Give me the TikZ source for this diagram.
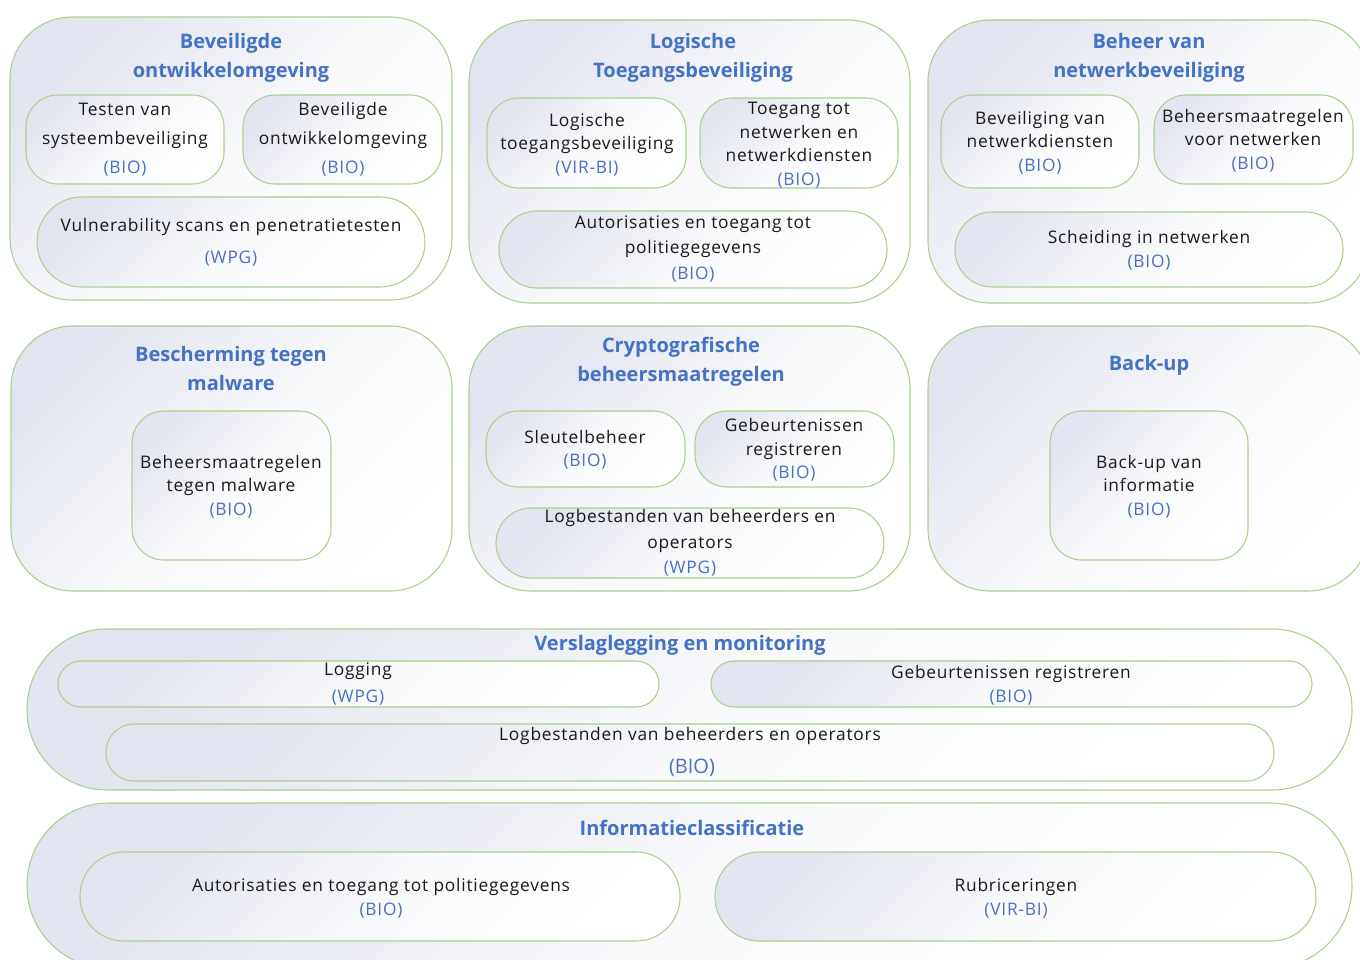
\documentclass[tikz,border=0pt]{standalone}
\usepackage{fontspec}
\setmainfont{Open Sans}
\newfontfamily\bodyfont[LetterSpace=4.5]{Open Sans}
\definecolor{edge}{HTML}{A9D18E}
\definecolor{ttl}{HTML}{4472C4}
\definecolor{lbl}{HTML}{4A70C0}
\definecolor{lav}{HTML}{E2E4EF}
\tikzset{
  box/.style={draw=edge, line width=0.8pt, left color=lav, right color=white, middle color=lav!22!white, shading angle=45, inner sep=0pt},
  head/.style={font=\fontsize{15}{21.75}\selectfont\bfseries, text=ttl, align=center, inner sep=0pt, yshift=-1.5pt},
  body/.style={font=\bodyfont\fontsize{13}{#1}\selectfont, text=black!90, align=center, inner sep=0pt, yshift=-1.5pt},
  body/.default=17.6
}
% rounded box from pixel corners: name, x1, y1, x2, y2, corner radius
\newcommand\rbox[6]{%
  \pgfmathsetmacro\bw{(#4-#2)*0.75}%
  \pgfmathsetmacro\bh{(#5-#3)*0.75}%
  \pgfmathsetmacro\br{#6*0.75}%
  \node[box, minimum width=\bw pt, minimum height=\bh pt, rounded corners=\br pt] (#1) at ({(#2+#4)/2},{(#3+#5)/2}) {};}
\newcommand\src[1]{\textcolor{lbl}{#1}}
\begin{document}
\begin{tikzpicture}[x=0.75pt,y=-0.75pt]
\useasboundingbox (0,0) rectangle (1360,960);
\clip (0,0) rectangle (1360,960);
\fill[white] (0,0) rectangle (1360,960);

% --- top row ---
\rbox{ontw}{10}{17}{452}{300}{62}
\node[head] (ontwT) at (231,55.5) {Beveiligde\\ontwikkelomgeving};
\rbox{testen}{26}{95}{224}{184}{32}
\node[body=21.75] (testenT) at (125,137.7) {Testen van\\systeembeveiliging\\\src{(BIO)}};
\rbox{bevont}{243}{95}{442}{184}{32}
\node[body=21.75] (bevontT) at (343,137.7) {Beveiligde\\ontwikkelomgeving\\\src{(BIO)}};
\rbox{vuln}{37}{197}{425}{287}{45}
\node[body=24] (vulnT) at (231,240) {Vulnerability scans en penetratietesten\\\src{(WPG)}};

\rbox{logt}{469}{20}{910}{303}{62}
\node[head] (logtT) at (693,55.5) {Logische\\Toegangsbeveiliging};
\rbox{logtb}{487}{98}{686}{188}{32}
\node[body] (logtbT) at (587,142.5) {Logische\\toegangsbeveiliging\\\src{(VIR-BI)}};
\rbox{toeg}{700}{98}{898}{188}{32}
\node[body] (toegT) at (799,143) {Toegang tot\\netwerken en\\netwerkdiensten\\\src{(BIO)}};
\rbox{autor}{499}{211}{887}{288}{38}
\node[body=19] (autorT) at (693,247) {Autorisaties en toegang tot\\politiegegevens\\\src{(BIO)}};

\rbox{netw}{928}{20}{1370}{303}{62}
\node[head] (netwT) at (1149,55.5) {Beheer van\\netwerkbeveiliging};
\rbox{netd}{941}{95}{1139}{188}{32}
\node[body] (netdT) at (1040,140.5) {Beveiliging van\\netwerkdiensten\\\src{(BIO)}};
\rbox{netm}{1154}{95}{1353}{184}{32}
\node[body] (netmT) at (1253,138.5) {Beheersmaatregelen\\voor netwerken\\\src{(BIO)}};
\rbox{scheid}{955}{212}{1343}{287}{37}
\node[body=18] (scheidT) at (1149,248) {Scheiding in netwerken\\\src{(BIO)}};

% --- middle row ---
\rbox{malw}{11}{326}{452}{591}{62}
\node[head] (malwT) at (231,366) {Bescherming tegen\\malware};
\rbox{malwb}{132}{411}{331}{560}{32}
\node[body] (malwbT) at (231,484.5) {Beheersmaatregelen\\tegen malware\\\src{(BIO)}};

\rbox{crypt}{469}{326}{910}{591}{62}
\node[head] (cryptT) at (681,359.5) {Cryptografische\\beheersmaatregelen};
\rbox{sleut}{486}{411}{685}{487}{32}
\node[body] (sleutT) at (585,448) {Sleutelbeheer\\\src{(BIO)}};
\rbox{gebc}{695}{411}{894}{487}{32}
\node[body] (gebcT) at (794,448) {Gebeurtenissen\\registreren\\\src{(BIO)}};
\rbox{logc}{496}{508}{884}{578}{35}
\node[body=19] (logcT) at (690,541) {Logbestanden van beheerders en\\operators\\\src{(WPG)}};

\rbox{backup}{928}{326}{1370}{591}{62}
\node[head] (backupT) at (1149,363) {Back-up};
\rbox{backi}{1050}{411}{1248}{560}{32}
\node[body] (backiT) at (1149,484.5) {Back-up van\\informatie\\\src{(BIO)}};

% --- lower bands ---
\rbox{versl}{27}{629}{1352}{790}{80}
\node[head] (verslT) at (680,643) {Verslaglegging en monitoring};
\rbox{logg}{58}{661}{659}{707}{23}
\node[body=20.25] (loggT) at (358,682.5) {Logging\\\src{(WPG)}};
\rbox{gebv}{711}{661}{1312}{707}{23}
\node[body=18] (gebvT) at (1011,683) {Gebeurtenissen registreren\\\src{(BIO)}};
\rbox{logv}{106}{724}{1274}{781}{28}
\node[body] (logvT) at (690,734) {Logbestanden van beheerders en operators};
\node[font=\fontsize{15}{18}\selectfont, text=lbl, inner sep=0pt, yshift=-1.5pt] (logvS) at (692,766) {(BIO)};

\rbox{info}{27}{803}{1352}{968}{82}
\node[head] (infoT) at (692,826) {Informatieclassificatie};
\rbox{autori}{80}{852}{680}{941}{44}
\node[body=18] (autoriT) at (381,896.5) {Autorisaties en toegang tot politiegegevens\\\src{(BIO)}};
\rbox{rubr}{715}{852}{1316}{941}{44}
\node[body=18] (rubrT) at (1016,896) {Rubriceringen\\\src{(VIR-BI)}};
\end{tikzpicture}
\end{document}
